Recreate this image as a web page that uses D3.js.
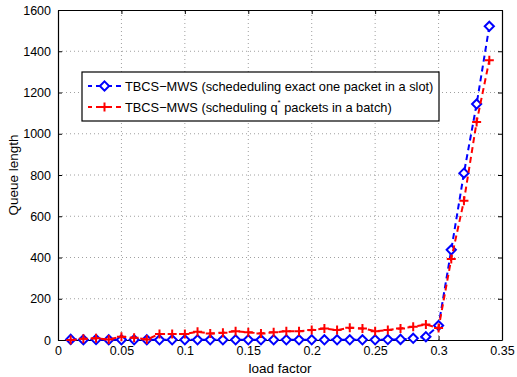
<!DOCTYPE html>
<html>
<head>
<meta charset="utf-8">
<script src="https://cdn.jsdelivr.net/npm/d3@7"></script>
<style>
  body { margin: 0; background: #fff; }
  svg { display: block; font-family: "Liberation Sans", Arial, sans-serif; }
</style>
</head>
<body>
<svg id="chart" width="517" height="377"></svg>
<script>
// Load factor samples
const loadFactor = [0.01,0.02,0.03,0.04,0.05,0.06,0.07,0.08,0.09,0.10,
  0.11,0.12,0.13,0.14,0.15,0.16,0.17,0.18,0.19,0.20,
  0.21,0.22,0.23,0.24,0.25,0.26,0.27,0.28,0.29,0.30,
  0.31,0.32,0.33,0.34];

// Exact one packet per slot
const queueSingle = [3,1,2,1,1,1,1,1,1,1,
  1,1,1,1,1,1,1,1,1,1,
  1,1,1,1,1,2,3,8,16,70,
  437,809,1144,1521];

// q* packets per batch
const queueBatch = [0,6,8,3,16,11,3,29,29,29,
  40,32,35,43,37,32,37,43,43,48,
  56,48,59,56,43,48,56,64,75,58,
  393,675,1057,1356];

const xTicks = [0,0.05,0.1,0.15,0.2,0.25,0.3,0.35];
const yTicks = [0,200,400,600,800,1000,1200,1400,1600];

const seriesNames = [
  "TBCS\u2212MWS (schededuling exact one packet in a slot)",
  "TBCS\u2212MWS (scheduling q"
];

const svg = d3.select("#chart");
const margin = {left: 58, right: 15, top: 10, bottom: 37};
const W = 517, H = 377;

const x = d3.scaleLinear().domain([0, 0.35]).range([margin.left, W - margin.right]);
const y = d3.scaleLinear().domain([0, 1600]).range([H - margin.bottom, margin.top]);

const x0 = x.range()[0], x1 = x.range()[1], y0 = y.range()[0], y1 = y.range()[1];

// dotted grid
const grid = svg.append("g");
grid.selectAll(".gx").data(xTicks.slice(1, -1)).enter().append("line")
  .attr("x1", d => x(d)).attr("x2", d => x(d)).attr("y1", y0).attr("y2", y1)
  .attr("stroke", "#888").attr("stroke-width", 0.8).attr("stroke-dasharray", "1,3");
grid.selectAll(".gy").data(yTicks.slice(1, -1)).enter().append("line")
  .attr("x1", x0).attr("x2", x1).attr("y1", d => y(d)).attr("y2", d => y(d))
  .attr("stroke", "#888").attr("stroke-width", 0.8).attr("stroke-dasharray", "1,3");

// axes (ticks inward) on all four sides
const fmtX = d => d === 0 ? "0" : d3.format("")(+d.toFixed(2));
const axB = d3.axisBottom(x).tickValues(xTicks).tickSizeInner(-4).tickSizeOuter(0).tickPadding(6).tickFormat(fmtX);
const axT = d3.axisTop(x).tickValues(xTicks).tickSizeInner(-4).tickSizeOuter(0).tickFormat("");
const axL = d3.axisLeft(y).tickValues(yTicks).tickSizeInner(-4).tickSizeOuter(0).tickPadding(7).tickFormat(d3.format("d"));
const axR = d3.axisRight(y).tickValues(yTicks).tickSizeInner(-4).tickSizeOuter(0).tickFormat("");

function styleAxis(g) {
  g.selectAll("path").attr("stroke", "#000").attr("stroke-width", 1.2);
  g.selectAll("line").attr("stroke", "#000");
  g.selectAll("text").attr("font-size", 12.5).attr("fill", "#000")
    .attr("font-family", "'Liberation Sans', Arial, sans-serif");
}
svg.append("g").attr("transform", `translate(0,${y0})`).call(axB).call(styleAxis);
svg.append("g").attr("transform", `translate(0,${y1})`).call(axT).call(styleAxis);
svg.append("g").attr("transform", `translate(${x0},0)`).call(axL).call(styleAxis);
svg.append("g").attr("transform", `translate(${x1},0)`).call(axR).call(styleAxis);

// axis titles
svg.append("text").attr("x", (x0 + x1) / 2).attr("y", 373).attr("text-anchor", "middle")
  .attr("font-size", 13.5).text("load factor");
svg.append("text").attr("transform", `translate(18,${(y0 + y1) / 2}) rotate(-90)`)
  .attr("text-anchor", "middle").attr("font-size", 13.5).text("Queue length");

// series
const line = d3.line().x(d => x(d[0])).y(d => y(d[1]));
const dataSingle = loadFactor.map((v, i) => [v, queueSingle[i]]);
const dataBatch = loadFactor.map((v, i) => [v, queueBatch[i]]);

const diamond = (cx, cy, r) => `M${cx},${cy - r}L${cx + r},${cy}L${cx},${cy + r}L${cx - r},${cy}Z`;
const plus = (cx, cy, r) => `M${cx - r},${cy}H${cx + r}M${cx},${cy - r}V${cy + r}`;

function drawSeries(data, color, marker) {
  const g = svg.append("g");
  g.append("path").datum(data).attr("d", line).attr("fill", "none")
    .attr("stroke", color).attr("stroke-width", 2).attr("stroke-dasharray", "6,4");
  g.selectAll("path.m").data(data).enter().append("path").attr("class", "m")
    .attr("d", d => marker === "diamond" ? diamond(x(d[0]), y(d[1]), 4.6) : plus(x(d[0]), y(d[1]), 4.5))
    .attr("fill", marker === "diamond" ? "#fff" : "none")
    .attr("stroke", color).attr("stroke-width", 2);
}
drawSeries(dataSingle, "#0000ff", "diamond");
drawSeries(dataBatch, "#ff0000", "plus");

// legend
const lg = svg.append("g");
lg.append("rect").attr("x", 82).attr("y", 72).attr("width", 357).attr("height", 49)
  .attr("fill", "#fff").attr("stroke", "#000").attr("stroke-width", 1.2);
const rows = [
  {yy: 86, color: "#0000ff", marker: "diamond"},
  {yy: 107, color: "#ff0000", marker: "plus"}
];
rows.forEach((r, i) => {
  lg.append("line").attr("x1", 88).attr("x2", 121).attr("y1", r.yy).attr("y2", r.yy)
    .attr("stroke", r.color).attr("stroke-width", 2).attr("stroke-dasharray", "6,4")
    .attr("stroke-dashoffset", 2);
  lg.append("path")
    .attr("d", r.marker === "diamond" ? diamond(104.5, r.yy, 4.6) : plus(104.5, r.yy, 4.5))
    .attr("fill", r.marker === "diamond" ? "#fff" : "none")
    .attr("stroke", r.color).attr("stroke-width", 2);
});
lg.append("text").attr("x", 125).attr("y", 90.5).attr("font-size", 12.8).text(seriesNames[0]);
const t2 = lg.append("text").attr("x", 125).attr("y", 111.5).attr("font-size", 12.8);
t2.append("tspan").text(seriesNames[1]);
t2.append("tspan").attr("dy", -7).attr("font-size", 8).text("*");
t2.append("tspan").attr("dy", 7).text(" packets in a batch)");
</script>
</body>
</html>
